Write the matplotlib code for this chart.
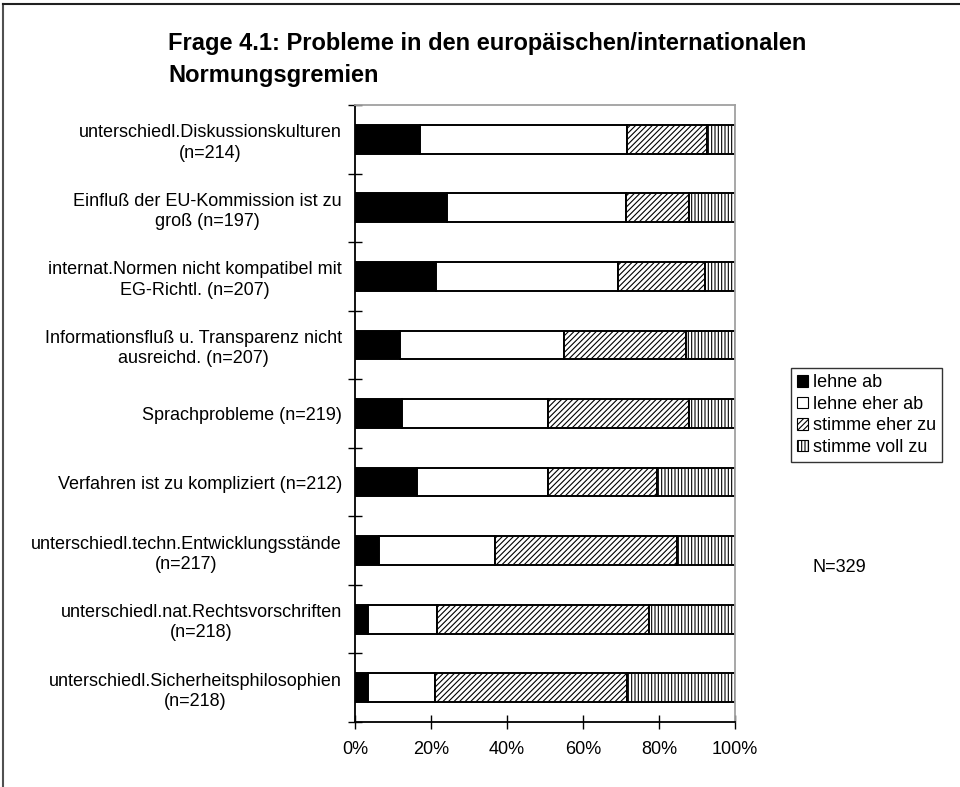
import matplotlib
matplotlib.use("Agg")
import matplotlib.pyplot as plt
from matplotlib.patches import Patch
from matplotlib.lines import Line2D
import numpy as np

plt.rcParams['font.family'] = ['Liberation Sans', 'DejaVu Sans']
plt.rcParams['hatch.linewidth'] = 0.8

title_lines = ["Frage 4.1: Probleme in den europäischen/internationalen",
               "Normungsgremien"]

categories = [
    "unterschiedl.Diskussionskulturen\n(n=214)",
    "Einfluß der EU-Kommission ist zu\ngroß (n=197)",
    "internat.Normen nicht kompatibel mit\nEG-Richtl. (n=207)",
    "Informationsfluß u. Transparenz nicht\nausreichd. (n=207)",
    "Sprachprobleme (n=219)",
    "Verfahren ist zu kompliziert (n=212)",
    "unterschiedl.techn.Entwicklungsstände\n(n=217)",
    "unterschiedl.nat.Rechtsvorschriften\n(n=218)",
    "unterschiedl.Sicherheitsphilosophien\n(n=218)",
]

series_names = ["lehne ab", "lehne eher ab", "stimme eher zu", "stimme voll zu"]

lehne_ab       = [17.1, 24.1, 21.3, 11.8, 12.3, 16.2,  6.4,  3.3,  3.3]
lehne_eher_ab  = [54.4, 47.2, 48.0, 43.2, 38.6, 34.7, 30.4, 18.2, 17.8]
stimme_eher_zu = [21.0, 16.7, 22.8, 32.0, 37.1, 28.5, 48.0, 55.9, 50.6]
stimme_voll_zu = [ 7.5, 12.0,  7.9, 13.0, 12.0, 20.6, 15.2, 22.6, 28.3]

x_ticks = [0, 20, 40, 60, 80, 100]
x_ticklabels = ["0%", "20%", "40%", "60%", "80%", "100%"]
total_note = "N=329"

series = [lehne_ab, lehne_eher_ab, stimme_eher_zu, stimme_voll_zu]
styles = [
    dict(facecolor="black", hatch=None),
    dict(facecolor="white", hatch=None),
    dict(facecolor="white", hatch="//////"),
    dict(facecolor="white", hatch="|||||"),
]

W, H = 960, 787
fig = plt.figure(figsize=(W / 100, H / 100), dpi=100)
ax = fig.add_axes([355 / W, 65 / H, 380 / W, 617 / H])

y = np.arange(len(categories))
left = np.zeros(len(categories))
for vals, name, st in zip(series, series_names, styles):
    ax.barh(y, vals, left=left, height=0.42, color=st["facecolor"],
            edgecolor="black", linewidth=1.4, hatch=st["hatch"], label=name)
    left += np.array(vals)

ax.set_xlim(0, 100)
ax.set_ylim(len(categories) - 0.5, -0.5)

# tick marks sit on the category boundaries, labels at the bar centres
ax.set_yticks(np.arange(-0.5, len(categories), 1.0))
ax.set_yticklabels([])
ax.set_yticks(y, minor=True)
ax.set_yticklabels(categories, minor=True, fontsize=13,
                   multialignment="center", linespacing=1.25)
ax.tick_params(axis="y", which="minor", length=0, pad=9.5)
ax.tick_params(axis="y", which="major", direction="inout", length=10, width=1)

ax.set_xticks(x_ticks)
ax.set_xticklabels(x_ticklabels, fontsize=13)
ax.tick_params(axis="x", direction="inout", length=10, width=1, pad=9)

for side in ("top", "right"):
    ax.spines[side].set_color("#a0a0a0")
    ax.spines[side].set_linewidth(1.3)
for side in ("left", "bottom"):
    ax.spines[side].set_color("black")
    ax.spines[side].set_linewidth(1.3)

fig.text(168 / W, 1 - 50 / H, title_lines[0], fontsize=17, fontweight="bold",
         ha="left", va="baseline")
fig.text(168 / W, 1 - 82 / H, title_lines[1], fontsize=17, fontweight="bold",
         ha="left", va="baseline")

handles = [Patch(facecolor=st["facecolor"], edgecolor="black",
                 hatch=st["hatch"], linewidth=0.8) for st in styles]
leg = fig.legend(handles, series_names, loc="lower right",
                 bbox_to_anchor=(942 / W, 1 - 462 / H), fontsize=13,
                 frameon=True, fancybox=False, edgecolor="black",
                 handlelength=0.6, handleheight=0.6, handletextpad=0.25,
                 borderpad=0.35, labelspacing=0.25, borderaxespad=0)
leg.get_frame().set_linewidth(1.0)

fig.text(839 / W, 1 - 567 / H, total_note, fontsize=13,
         ha="center", va="center")

# outer frame lines along the left and top edge
fig.add_artist(Line2D([2.5 / W, 2.5 / W], [0, 1 - 4 / H],
                      transform=fig.transFigure, color="#505050", lw=1.5))
fig.add_artist(Line2D([2.5 / W, 1], [1 - 4 / H, 1 - 4 / H],
                      transform=fig.transFigure, color="#202020", lw=1.5))

fig.savefig("out.png", dpi=100, facecolor="white")
